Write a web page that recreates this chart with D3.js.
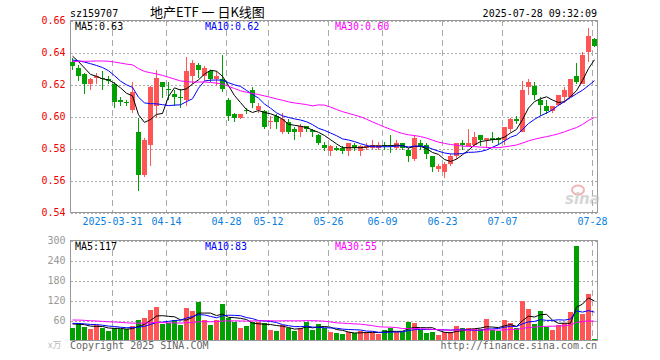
<!DOCTYPE html>
<html>
<head>
<meta charset="utf-8">
<script src="https://cdn.jsdelivr.net/npm/d3@7"></script>
<style>
body { margin: 0; background: #fff; }
svg text { font-family: "DejaVu Sans Mono", monospace; font-size: 10px; }
</style>
</head>
<body>
<svg id="chart" width="660" height="360"></svg>
<script>
// trading days shown (88 sessions)
const tradeDays = [
  "2025-03-20","2025-03-21","2025-03-24","2025-03-25","2025-03-26","2025-03-27","2025-03-28","2025-03-31",
  "2025-04-01","2025-04-02","2025-04-03","2025-04-07","2025-04-08","2025-04-09","2025-04-10","2025-04-11",
  "2025-04-14","2025-04-15","2025-04-16","2025-04-17","2025-04-18","2025-04-21","2025-04-22","2025-04-23",
  "2025-04-24","2025-04-25","2025-04-28","2025-04-29","2025-04-30",
  "2025-05-06","2025-05-07","2025-05-08","2025-05-09","2025-05-12","2025-05-13","2025-05-14","2025-05-15",
  "2025-05-16","2025-05-19","2025-05-20","2025-05-21","2025-05-22","2025-05-23","2025-05-26","2025-05-27",
  "2025-05-28","2025-05-29","2025-05-30",
  "2025-06-03","2025-06-04","2025-06-05","2025-06-06","2025-06-09","2025-06-10","2025-06-11","2025-06-12",
  "2025-06-13","2025-06-16","2025-06-17","2025-06-18","2025-06-19","2025-06-20","2025-06-23","2025-06-24",
  "2025-06-25","2025-06-26","2025-06-27","2025-06-30",
  "2025-07-01","2025-07-02","2025-07-03","2025-07-04","2025-07-07","2025-07-08","2025-07-09","2025-07-10",
  "2025-07-11","2025-07-14","2025-07-15","2025-07-16","2025-07-17","2025-07-18","2025-07-21","2025-07-22",
  "2025-07-23","2025-07-24","2025-07-25","2025-07-28"
];

const opens = [
  0.634,0.630,0.626,0.620,0.624,0.624,0.623,0.620,0.610,0.609,
  0.604,0.590,0.563,0.582,0.606,0.621,0.617,0.614,0.612,0.610,
  0.625,0.632,0.625,0.628,0.623,0.623,0.610,0.601,0.599,0.604,
  0.616,0.604,0.603,0.596,0.600,0.590,0.596,0.592,0.590,0.594,
  0.591,0.588,0.582,0.578,0.580,0.580,0.578,0.582,0.578,0.580,
  0.580,0.580,0.582,0.582,0.580,0.583,0.579,0.573,0.583,0.582,
  0.575,0.567,0.565,0.570,0.575,0.583,0.581,0.582,0.588,0.585,
  0.586,0.586,0.585,0.592,0.598,0.590,0.618,0.619,0.610,0.606,
  0.603,0.607,0.612,0.612,0.625,0.620,0.640,0.648
];
const closes = [
  0.631,0.625,0.620,0.623,0.625,0.623,0.622,0.609,0.609,0.608,
  0.615,0.563,0.585,0.618,0.624,0.618,0.616,0.612,0.611,0.628,
  0.633,0.629,0.630,0.623,0.625,0.617,0.600,0.599,0.601,0.603,
  0.608,0.606,0.593,0.597,0.596,0.598,0.590,0.590,0.594,0.592,
  0.590,0.583,0.580,0.581,0.579,0.578,0.583,0.580,0.581,0.581,
  0.582,0.582,0.581,0.581,0.583,0.580,0.575,0.586,0.581,0.576,
  0.568,0.569,0.570,0.575,0.583,0.582,0.583,0.587,0.585,0.586,
  0.585,0.585,0.593,0.598,0.597,0.616,0.621,0.613,0.607,0.603,
  0.606,0.613,0.616,0.623,0.621,0.638,0.650,0.644
];
const highs = [
  0.636,0.632,0.627,0.624,0.627,0.628,0.625,0.621,0.612,0.610,
  0.621,0.599,0.586,0.619,0.629,0.621,0.621,0.616,0.617,0.637,
  0.635,0.633,0.631,0.629,0.628,0.638,0.611,0.602,0.601,0.605,
  0.618,0.608,0.604,0.600,0.601,0.602,0.598,0.593,0.595,0.594,
  0.592,0.589,0.584,0.582,0.581,0.581,0.583,0.583,0.582,0.583,
  0.585,0.584,0.584,0.588,0.585,0.583,0.580,0.588,0.585,0.583,
  0.575,0.570,0.571,0.576,0.583,0.585,0.592,0.590,0.588,0.586,
  0.590,0.587,0.593,0.599,0.600,0.622,0.623,0.621,0.612,0.610,
  0.606,0.613,0.618,0.623,0.633,0.640,0.655,0.649
];
const lows = [
  0.629,0.622,0.614,0.616,0.620,0.616,0.620,0.605,0.606,0.606,
  0.602,0.553,0.562,0.569,0.599,0.611,0.610,0.606,0.605,0.606,
  0.620,0.624,0.622,0.621,0.619,0.615,0.597,0.596,0.598,0.601,
  0.605,0.602,0.592,0.592,0.592,0.589,0.589,0.585,0.587,0.590,
  0.587,0.582,0.578,0.575,0.578,0.576,0.575,0.578,0.575,0.579,
  0.579,0.579,0.579,0.577,0.579,0.579,0.571,0.572,0.579,0.573,
  0.565,0.565,0.561,0.569,0.573,0.579,0.581,0.581,0.581,0.580,
  0.583,0.582,0.582,0.590,0.595,0.590,0.613,0.610,0.600,0.601,
  0.602,0.606,0.608,0.612,0.620,0.620,0.634,0.643
];
// volume, 万
const volumes = [
  37,50,40,33,45,35,27,35,33,33,
  43,60,67,90,100,48,50,60,45,97,
  87,115,60,45,60,108,67,55,35,42,
  55,55,50,30,27,45,35,27,35,55,
  30,48,35,24,20,18,23,20,27,23,
  23,18,30,35,23,25,55,52,30,22,
  25,15,23,23,43,35,35,33,33,63,
  30,27,60,52,35,117,93,48,87,40,
  30,45,50,84,282,78,138,3
];

// sessions before the window, estimated from where the MA lines start
const prevCloses = [
  0.618,0.620,0.622,0.621,0.624,0.626,0.625,0.627,0.628,0.629,
  0.634,0.638,0.642,0.645,0.648,0.649,0.647,0.645,0.643,0.639,
  0.630,0.628,0.633,0.636,0.636,0.642,0.640,0.643,0.631
];
const prevVolumes = [
  58,62,70,66,72,60,55,68,75,64,70,62,58,66,72,69,60,63,68,62,
  55,50,52,48,55,52,48,55,48
];

const maPeriods = [5, 10, 30];
const maColors = ["#000000", "#0000ff", "#ff00ff"];
const priceMaLabels = ["MA5:0.63", "MA10:0.62", "MA30:0.60"];
const volMaLabels = ["MA5:117", "MA10:83", "MA30:55"];
const priceTicks = [0.54, 0.56, 0.58, 0.60, 0.62, 0.64, 0.66];
const volTicks = [60, 120, 180, 240, 300];
const dateTicks = ["2025-03-31","2025-04-14","2025-04-28","2025-05-12","2025-05-26",
                   "2025-06-09","2025-06-23","2025-07-07","2025-07-28"];

const RED = "#ff5555", GREEN = "#00a000";

const svg = d3.select("#chart");

const x = d3.scaleBand().domain(tradeDays).range([70, 597]).paddingInner(1 / 6);
const y = d3.scaleLinear().domain([0.54, 0.66]).range([212, 20]);
const yv = d3.scaleLinear().domain([0, 300]).range([340, 240]);

const data = tradeDays.map((d, i) => ({
  date: d, o: opens[i], c: closes[i], h: highs[i], l: lows[i], v: volumes[i]
}));
const isUp = d => d.c >= d.o;

function movingAvg(prev, vals, n) {
  const all = prev.concat(vals);
  return vals.map((v, i) => {
    const end = prev.length + i + 1;
    return d3.mean(all.slice(end - n, end));
  });
}

// ---------- grids ----------
function styleGrid(g, color) {
  g.select(".domain").remove();
  g.selectAll(".tick line")
    .attr("stroke", "#aaa")
    .attr("stroke-dasharray", "2,2")
    .attr("shape-rendering", "crispEdges");
  g.selectAll(".tick text")
    .attr("fill", color)
    .attr("font-family", "DejaVu Sans Mono, monospace")
    .attr("font-size", 10);
}

svg.append("g")
  .attr("transform", "translate(70.5,0.5)")
  .call(d3.axisLeft(y).tickValues(priceTicks).tickSize(-527).tickPadding(5).tickFormat(d3.format(".2f")))
  .call(g => styleGrid(g, "#ee0000"));

svg.append("g")
  .attr("transform", "translate(70.5,0.5)")
  .call(d3.axisLeft(yv).tickValues(volTicks).tickSize(-527).tickPadding(5))
  .call(g => styleGrid(g, "#999"));

// vertical dashed date lines, both panes
[[20, 212], [240, 340]].forEach(([y0, y1]) => {
  svg.append("g").selectAll("line")
    .data(dateTicks)
    .enter()
    .append("line")
    .attr("x1", d => x(d) + 0.5)
    .attr("x2", d => x(d) + 0.5)
    .attr("y1", y0)
    .attr("y2", y1)
    .attr("stroke", "#aaa")
    .attr("stroke-dasharray", "6,4")
    .attr("shape-rendering", "crispEdges");
});

svg.append("g").selectAll("text")
  .data(dateTicks)
  .enter()
  .append("text")
  .attr("x", d => x(d) + 0.5)
  .attr("y", 225)
  .attr("text-anchor", "middle")
  .attr("fill", "#0a80e0")
  .text((d, i) => i === 0 ? d : d.slice(5));

// frames
[[20, 192], [240, 100]].forEach(([top, h]) => {
  svg.append("rect")
    .attr("x", 70.5).attr("y", top + 0.5)
    .attr("width", 527).attr("height", h)
    .attr("fill", "none")
    .attr("stroke", "#999")
    .attr("shape-rendering", "crispEdges");
});

// ---------- candles ----------
const candles = svg.append("g").attr("shape-rendering", "crispEdges");
candles.selectAll("line")
  .data(data)
  .enter()
  .append("line")
  .attr("x1", d => x(d.date) + 2.5)
  .attr("x2", d => x(d.date) + 2.5)
  .attr("y1", d => y(d.h))
  .attr("y2", d => y(d.l))
  .attr("stroke", d => isUp(d) ? RED : GREEN);

candles.selectAll("rect")
  .data(data)
  .enter()
  .append("rect")
  .attr("x", d => x(d.date))
  .attr("width", x.bandwidth())
  .attr("y", d => y(Math.max(d.o, d.c)))
  .attr("height", d => Math.max(1, Math.abs(y(d.o) - y(d.c))))
  .attr("fill", d => isUp(d) ? RED : GREEN);

// ---------- volume bars ----------
svg.append("g").attr("shape-rendering", "crispEdges")
  .selectAll("rect")
  .data(data)
  .enter()
  .append("rect")
  .attr("x", d => x(d.date))
  .attr("width", x.bandwidth())
  .attr("y", d => yv(d.v))
  .attr("height", d => yv(0) - yv(d.v))
  .attr("fill", d => isUp(d) ? RED : GREEN);

// ---------- moving averages ----------
maPeriods.forEach((n, k) => {
  const pMa = movingAvg(prevCloses, closes, n);
  const vMa = movingAvg(prevVolumes, volumes, n);

  const pLine = d3.line().x((d, i) => x(tradeDays[i]) + 2.5).y(d => y(d));
  const vLine = d3.line().x((d, i) => x(tradeDays[i]) + 2.5).y(d => yv(d));

  svg.append("path")
    .attr("d", pLine(pMa))
    .attr("fill", "none")
    .attr("stroke", maColors[k])
    .attr("stroke-width", 1);

  svg.append("path")
    .attr("d", vLine(vMa))
    .attr("fill", "none")
    .attr("stroke", maColors[k])
    .attr("stroke-width", 1);

  svg.append("text")
    .attr("x", 75 + 130 * k).attr("y", 30)
    .attr("fill", maColors[k])
    .text(priceMaLabels[k]);

  svg.append("text")
    .attr("x", 75 + 130 * k).attr("y", 250)
    .attr("fill", maColors[k])
    .text(volMaLabels[k]);
});

// ---------- header / footer ----------
svg.append("text").attr("x", 70).attr("y", 17).attr("fill", "#000").text("sz159707");
svg.append("text")
  .attr("x", 150).attr("y", 17)
  .style("font-family", "'Noto Sans CJK SC', sans-serif")
  .style("font-size", "13px")
  .attr("fill", "#000")
  .text("地产ETF 一 日K线图");
svg.append("text")
  .attr("x", 597).attr("y", 17)
  .attr("text-anchor", "end")
  .attr("fill", "#000")
  .text("2025-07-28 09:32:09");

svg.append("text").attr("x", 70).attr("y", 349).attr("fill", "#666").text("Copyright 2025 SINA.COM");
svg.append("text")
  .attr("x", 597).attr("y", 349)
  .attr("text-anchor", "end")
  .attr("fill", "#666")
  .text("http://finance.sina.com.cn");
svg.append("text")
  .attr("x", 48).attr("y", 348)
  .attr("fill", "#bbb")
  .style("font-family", "'Noto Sans CJK SC', sans-serif")
  .style("font-size", "9px")
  .text("x万");

// sina watermark
const logo = svg.append("g").attr("opacity", 0.6);
logo.append("ellipse")
  .attr("cx", 578).attr("cy", 190)
  .attr("rx", 6).attr("ry", 4.5)
  .attr("fill", "none")
  .attr("stroke", "#f08080")
  .attr("stroke-width", 2);
logo.append("text")
  .attr("x", 565).attr("y", 204)
  .style("font-family", "'DejaVu Sans', sans-serif")
  .style("font-size", "15px")
  .style("font-weight", "bold")
  .style("font-style", "italic")
  .attr("fill", "#bbb")
  .text("sina");
</script>
</body>
</html>
